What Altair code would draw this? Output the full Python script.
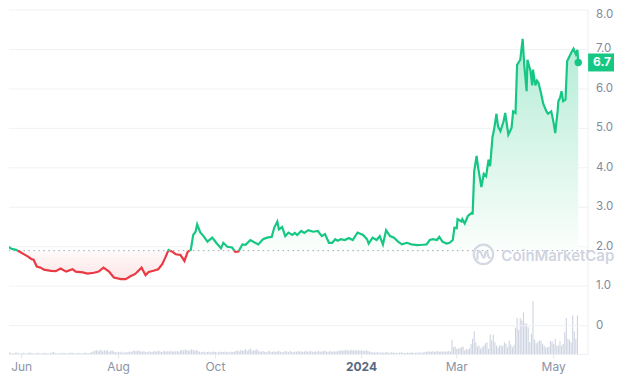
import altair as alt
import pandas as pd
import numpy as np

START = "2023-05-19"
BASE = 1.90
GREEN = "#16c784"
RED = "#ea3943"

# day offsets from START and prices
day = [0, 2.5, 4.5, 6.5, 9.5, 11.5, 14, 17, 19, 20.5,
       22.5, 25, 27, 31.5, 34.5, 37.5, 41, 45, 47, 51.5,
       54.5, 58.5, 61.5, 64.5, 68, 71, 75.5, 78.5, 81.5, 84.5,
       88.5, 91, 93, 96, 99, 101.5, 103.5, 105.5, 108, 110,
       113, 115.5, 117.5, 119.5, 121, 122.5, 123.5, 125.5, 127.5, 130,
       133, 135.5, 138.5, 140, 142.5, 145.5, 147.5, 149.5, 152, 154,
       157, 160, 162, 165, 167.5, 170.5, 172, 174, 175, 177,
       179, 181, 183.5, 185, 186.5, 189, 191, 193.5, 196.5, 199.5,
       202, 204, 206.5, 208.5, 210.5, 212, 214, 216.5, 219, 221.5,
       224.5, 228, 230.5, 231.5, 234, 236.5, 238.5, 240.5, 242.5, 245,
       247.5, 250, 252.5, 255.5, 258.5, 262, 265.5, 268, 270, 272,
       274.5, 276, 278, 280.5, 282.5, 284.5, 285.5, 287, 287.5, 290,
       290.5, 292, 294, 296.5, 297, 298, 299.5, 300.5, 302.5, 304,
       305.5, 307, 308, 309.5, 310.5, 312, 313, 314.5, 316.5, 317.5,
       319.5, 321.5, 322.5, 324, 325, 327, 328.5, 329.5, 331, 331.5,
       333.5, 334.5, 335, 336.5, 337.5, 338.5, 340, 341.5, 343.5, 344.5,
       346.5, 348, 349, 350.5, 351, 352, 353, 354, 355.5, 356.5,
       359, 360.5, 362, 363, 363.5]

price = [1.89, 1.85, 2.00, 1.95, 1.92, 1.88, 1.82, 1.75, 1.69, 1.67,
         1.50, 1.47, 1.42, 1.39, 1.38, 1.45, 1.37, 1.43, 1.37, 1.35,
         1.32, 1.34, 1.37, 1.47, 1.37, 1.22, 1.18, 1.18, 1.25, 1.31,
         1.47, 1.28, 1.36, 1.39, 1.43, 1.56, 1.73, 1.92, 1.87, 1.81,
         1.79, 1.64, 1.87, 1.92, 2.30, 2.38, 2.57, 2.36, 2.27, 2.13,
         2.23, 2.10, 1.96, 2.10, 2.00, 1.98, 1.87, 1.88, 2.06, 2.05,
         2.17, 2.10, 2.06, 2.19, 2.23, 2.25, 2.48, 2.64, 2.44, 2.50,
         2.27, 2.36, 2.30, 2.35, 2.30, 2.40, 2.35, 2.42, 2.38, 2.40,
         2.27, 2.32, 2.10, 2.10, 2.19, 2.15, 2.19, 2.17, 2.22, 2.17,
         2.36, 2.30, 2.19, 2.08, 2.23, 2.17, 2.27, 2.06, 2.42, 2.27,
         2.23, 2.13, 2.06, 2.10, 2.06, 2.04, 2.05, 2.06, 2.17, 2.19,
         2.17, 2.25, 2.13, 2.08, 2.10, 2.17, 2.48, 2.47, 2.70, 2.64,
         2.70, 2.59, 2.78, 2.86, 2.82, 3.92, 4.30, 4.00, 3.51, 3.85,
         3.79, 4.21, 4.04, 4.78, 4.97, 5.37, 5.05, 4.93, 5.18, 5.39,
         4.84, 5.01, 5.43, 5.39, 6.61, 6.74, 7.27, 6.61, 5.94, 6.74,
         6.44, 6.09, 6.49, 6.09, 6.21, 6.15, 5.90, 5.62, 5.43, 5.37,
         5.43, 5.14, 4.88, 5.43, 5.69, 5.77, 5.94, 5.69, 5.73, 6.70,
         6.91, 7.02, 6.88, 6.99, 6.67]

# daily volume (millions USD, approx.) from START
volume = [12, 15, 10, 18, 25, 30, 14, 12, 10, 16, 20, 12, 10, 14, 18,
          12, 10, 15, 22, 14, 12, 10, 12, 16, 14, 10, 12, 18, 15, 12,
          10, 14, 20, 28, 16, 12, 10, 14, 12, 18, 15, 10, 12, 14, 20,
          16, 12, 10, 14, 18, 12, 10, 15, 20, 14, 12, 16,
          22, 30, 38, 45, 35, 40, 48, 30, 42, 36, 45, 28, 34, 40, 30,
          25, 20, 28, 22, 30, 18, 24, 20, 26, 30, 22, 35, 38, 32, 40,
          36, 30, 28, 34, 25, 22, 30, 28,
          26, 30, 35, 28, 40, 32, 25, 30, 36, 28, 34, 30, 38, 26, 32,
          30, 35, 28, 42, 48, 38, 50, 45, 36, 40, 52, 44, 38, 46, 35,
          28, 22, 25, 30, 20, 24, 26, 22, 28, 30, 24, 20, 22, 26, 28,
          24, 30, 22, 26, 20, 28, 25, 30,
          35, 40, 30, 45, 38, 42, 55, 35, 48, 60, 40, 38, 45, 52, 36,
          30, 26, 34, 28, 22, 30, 36, 25, 28, 32, 24, 30, 38, 26, 22,
          28, 34, 30, 24, 36, 28, 22, 30, 26, 34, 28, 32, 24, 30, 36,
          26, 30, 34, 28, 24, 32, 28, 36, 30, 26, 34, 38, 30, 28, 34,
          30, 26, 32, 28, 35,
          38, 42, 35, 45, 40, 48, 36, 42, 50, 38, 44, 40, 46, 36, 42,
          38, 34, 40, 36, 30,
          25, 20, 22, 18, 24, 20, 16, 22, 18, 20, 24, 16, 18, 22, 20,
          16, 18, 14, 20, 22, 16, 18, 14, 20, 16, 18, 22, 14, 16, 20,
          18, 22, 16, 20, 24, 30, 28,
          30, 28, 32, 26, 30, 34, 28, 30, 26, 32, 28, 30, 35, 30,
          147, 73, 80, 57, 57, 65, 73, 80, 40, 57,
          47, 60, 107, 157, 233, 123, 80, 90, 57, 73,
          90, 113, 123, 57, 200, 140, 200, 123, 90, 73,
          90, 90, 85, 123, 107, 73, 140, 100, 73, 95,
          267, 367, 247, 367, 340, 423, 313, 307, 273, 123,
          207, 533, 147, 113, 123, 140, 140, 107, 90, 73,
          73, 80, 133, 133, 107, 157, 90, 90, 133, 90,
          107, 223, 367, 157, 147, 120, 390, 233, 157, 390]

x_tick_dates = ["2023-06-01", "2023-08-01", "2023-10-01", "2024-01-01", "2024-03-01", "2024-05-01"]
x_tick_labels = ["Jun", "Aug", "Oct", "2024", "Mar", "May"]
y_ticks = [0, 1, 2, 3, 4, 5, 6, 7, 8]
y_tick_labels = ["0", "1.0", "2.0", "3.0", "4.0", "5.0", "6.0", "7.0", "8.0"]

t0 = pd.Timestamp(START)
FMT = "%Y-%m-%dT%H:%M:%S"

# split the line into runs above / below the reference price
rows = []
run = 0
for i, (d, v) in enumerate(zip(day, price)):
    s = "up" if v >= BASE else "down"
    if i > 0:
        d0, v0 = day[i - 1], price[i - 1]
        s0 = "up" if v0 >= BASE else "down"
        if s != s0:
            f = (BASE - v0) / (v - v0)
            dc = d0 + f * (d - d0)
            rows.append((dc, BASE, run, s0))
            run += 1
            rows.append((dc, BASE, run, s))
    rows.append((d, v, run, s))
seg = pd.DataFrame(rows, columns=["day", "price", "run", "side"])
seg["date"] = (t0 + pd.to_timedelta(seg["day"], unit="D")).dt.strftime(FMT)
seg["up"] = np.maximum(seg["price"], BASE)
seg["dn"] = np.minimum(seg["price"], BASE)
seg["base"] = BASE

voldf = pd.DataFrame({"date": (t0 + pd.to_timedelta(np.arange(len(volume)), unit="D")).strftime(FMT),
                      "vol": volume})
last = pd.DataFrame({"date": [(t0 + pd.Timedelta(days=day[-1])).strftime(FMT)],
                     "price": [price[-1]], "label": [f"{price[-1]:.1f}"]})
xlab = pd.DataFrame({"date": [d + "T00:00:00" for d in x_tick_dates], "label": x_tick_labels,
                     "year": [lab.isdigit() for lab in x_tick_labels]})
ylab = pd.DataFrame({"v": y_ticks, "label": y_tick_labels})

W, H = 581, 346
xscale = alt.Scale(domain=["2023-05-24T00:00:00", "2024-05-22T17:00:00"], nice=False, padding=0)
yscale = alt.Scale(domain=[-0.73, 8.01], nice=False, zero=False, padding=0)

Xn = alt.X("date:T", scale=xscale, axis=None)

vol_chart = alt.Chart(voldf).mark_bar(width=1.1, color="#cdd3e0", clip=True).encode(
    x=Xn, y=alt.Y("vol:Q", scale=alt.Scale(domain=[0, 3460], nice=False, padding=0), axis=None))

green_grad = alt.Gradient(gradient="linear",
                          stops=[alt.GradientStop(color="#b3ecd6", offset=0),
                                 alt.GradientStop(color="#fbfefc", offset=1)],
                          x1=1, x2=1, y1=0, y2=1)
red_grad = alt.Gradient(gradient="linear",
                        stops=[alt.GradientStop(color="#fffafa", offset=0),
                               alt.GradientStop(color="#fce4e6", offset=1)],
                        x1=1, x2=1, y1=0, y2=1)

# manual axes
grid = alt.Chart(ylab).mark_rule(color="#eff2f5", strokeWidth=1).encode(
    y=alt.Y("v:Q", scale=yscale, axis=None))
ylabels = alt.Chart(ylab).transform_filter("datum.v < 8").mark_text(
    align="left", baseline="middle", font="Inter", fontSize=11.5, color="#808a9d").encode(
    x=alt.value(W + 8), y=alt.Y("v:Q", scale=yscale, axis=None), text="label:N")
ylabel_top = alt.Chart(ylab).transform_filter("datum.v >= 8").mark_text(
    align="left", baseline="middle", font="Inter", fontSize=11.5, color="#808a9d", dy=5.5).encode(
    x=alt.value(W + 8), y=alt.Y("v:Q", scale=yscale, axis=None), text="label:N")
right_dom = alt.Chart(ylab).transform_filter("datum.v == 0").mark_rule(color="#eceff3").encode(
    x=alt.value(W), y=alt.value(0), y2=alt.value(H))
bottom_dom = alt.Chart(ylab).transform_filter("datum.v == 0").mark_rule(color="#eceff3").encode(
    x=alt.value(0), x2=alt.value(W), y=alt.value(H))
xticks = alt.Chart(xlab).mark_rule(color="#e3e6eb").encode(
    x=Xn, y=alt.value(H), y2=alt.value(H + 4))
xl_month = alt.Chart(xlab).transform_filter("!datum.year").mark_text(
    font="Inter", fontSize=12, color="#8a93a6", baseline="middle").encode(
    x=Xn, y=alt.value(H + 13), text="label:N")
xl_year = alt.Chart(xlab).transform_filter("datum.year").mark_text(
    font="Inter", fontSize=12, fontWeight=700, color="#58667e", baseline="middle").encode(
    x=Xn, y=alt.value(H + 13), text="label:N")

base = alt.Chart(seg)
area_up = base.mark_area(color=green_grad, clip=True).encode(
    x=Xn, y=alt.Y("up:Q", scale=yscale, axis=None), y2="base:Q")
area_dn = base.mark_area(color=red_grad, clip=True).encode(
    x=Xn, y=alt.Y("dn:Q", scale=yscale, axis=None), y2="base:Q")
rule = alt.Chart(pd.DataFrame({"base": [BASE]})).mark_rule(
    color="#9aa3b5", strokeDash=[1.5, 3.5], strokeWidth=1).encode(y=alt.Y("base:Q", scale=yscale, axis=None))

wm_df = pd.DataFrame({"t": ["CoinMarketCap"]})
wm_ring = alt.Chart(wm_df).mark_point(shape="circle", filled=False, size=380, stroke="#d3d8e2",
                                      strokeWidth=2.2, opacity=1).encode(
    x=alt.value(476), y=alt.value(245.5))
wm_wave = alt.Chart(wm_df).mark_point(
    shape="M -0.62 0.5 L -0.62 -0.05 Q -0.55 -0.55 -0.3 -0.3 L -0.05 0.2 Q 0.1 0.45 0.15 0.1 L 0.2 -0.25 Q 0.3 -0.5 0.42 -0.2 L 0.5 0.15 Q 0.58 0.4 0.75 0.25",
    filled=False, size=380, stroke="#d3d8e2", strokeWidth=2.2, opacity=1).encode(
    x=alt.value(476), y=alt.value(246))
wm_text = alt.Chart(wm_df).mark_text(align="left", baseline="alphabetic", font="Inter", fontSize=15,
                                     fontWeight=600, color="#cfd4df").encode(
    x=alt.value(494), y=alt.value(252), text="t:N")

line = base.mark_line(strokeWidth=2.2, clip=True).encode(
    x=Xn, y=alt.Y("price:Q", scale=yscale, axis=None),
    color=alt.Color("side:N", scale=alt.Scale(domain=["up", "down"], range=[GREEN, RED]), legend=None),
    detail="run:N", order="day:Q")
dot = alt.Chart(last).mark_circle(size=55, color=GREEN, opacity=1).encode(
    x=Xn, y=alt.Y("price:Q", scale=yscale, axis=None))
badge = alt.Chart(last).mark_rect(color=GREEN, yOffset=-9, y2Offset=9).encode(
    x=alt.value(W), x2=alt.value(W + 26), y=alt.Y("price:Q", scale=yscale, axis=None), y2="price:Q")
badge_txt = alt.Chart(last).mark_text(color="white", font="Inter", fontSize=12, fontWeight=700,
                                      align="center", baseline="middle").encode(
    x=alt.value(W + 14), y=alt.Y("price:Q", scale=yscale, axis=None), text="label:N")

price_layer = alt.layer(grid, right_dom, bottom_dom, xticks, area_up, area_dn, rule,
                        wm_ring, wm_wave, wm_text, line, dot, ylabels, ylabel_top, badge, badge_txt,
                        xl_month, xl_year)

chart = alt.layer(vol_chart, price_layer).resolve_scale(y="independent").properties(
    width=W, height=H, padding=0, background="white"
).configure(font="Inter", view=alt.ViewConfig(stroke=None))

chart.save("out.html", embed_options={"renderer": "svg", "actions": False})
